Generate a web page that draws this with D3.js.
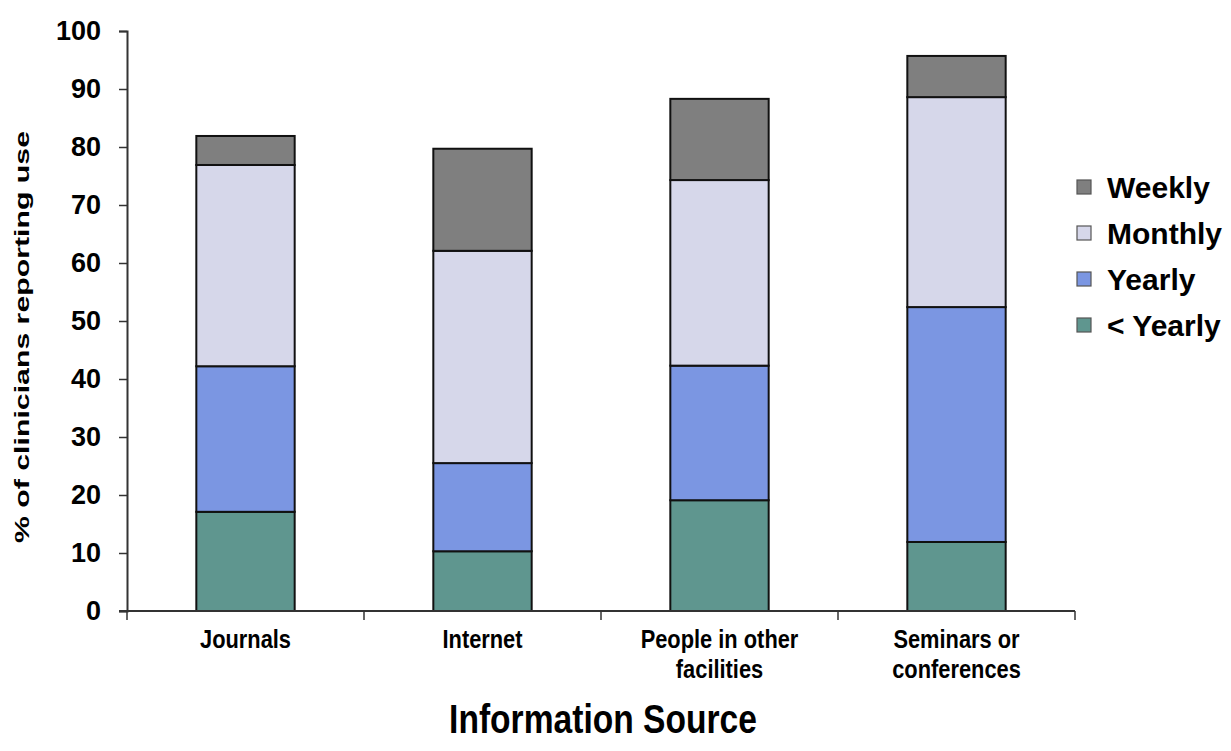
<!DOCTYPE html>
<html>
<head>
<meta charset="utf-8">
<script src="https://cdn.jsdelivr.net/npm/d3@7"></script>
<style>
  html, body { margin: 0; padding: 0; background: #fff; }
  svg { display: block; }
  text { font-family: "Liberation Sans", Arial, sans-serif; font-weight: bold; fill: #000; }
</style>
</head>
<body>
<svg id="chart" width="1231" height="751"></svg>
<script>
// Information sources and how often clinicians use them (% of clinicians)
const categories = ["Journals", "Internet", "People in other facilities", "Seminars or conferences"];
const categoryLines = [["Journals"], ["Internet"], ["People in other", "facilities"], ["Seminars or", "conferences"]];
const seriesNames = ["< Yearly", "Yearly", "Monthly", "Weekly"];
const lessThanYearly = [17.1, 10.3, 19.1, 11.9];
const yearly = [25.1, 15.2, 23.2, 40.5];
const monthly = [34.7, 36.6, 32.0, 36.2];
const weekly = [5.0, 17.6, 14.0, 7.1];
const yTicks = [0, 10, 20, 30, 40, 50, 60, 70, 80, 90, 100];
const legendOrder = ["Weekly", "Monthly", "Yearly", "< Yearly"];
const colors = { "< Yearly": "#5f968f", "Yearly": "#7b96e2", "Monthly": "#d6d7ea", "Weekly": "#7f7f7f" };

const svg = d3.select("#chart");
const margin = { left: 127, right: 156, top: 31, bottom: 140 };
const W = 1231, H = 751;

const x = d3.scaleBand().domain(categories).range([margin.left, W - margin.right]).paddingInner(0.585).paddingOuter(0.2925);
const y = d3.scaleLinear().domain([0, 100]).range([H - margin.bottom, margin.top]);

const rows = categories.map((c, i) => ({
  cat: c,
  "< Yearly": lessThanYearly[i],
  "Yearly": yearly[i],
  "Monthly": monthly[i],
  "Weekly": weekly[i]
}));
const stacked = d3.stack().keys(seriesNames)(rows);

// stacked bars
svg.append("g").selectAll("g").data(stacked).join("g")
  .attr("fill", d => colors[d.key])
  .selectAll("rect").data(d => d).join("rect")
  .attr("x", d => x(d.data.cat))
  .attr("width", x.bandwidth())
  .attr("y", d => y(d[1]))
  .attr("height", d => y(d[0]) - y(d[1]))
  .attr("stroke", "#111")
  .attr("stroke-width", 2);

// y axis
const yAxis = svg.append("g").attr("transform", `translate(${margin.left},0)`)
  .call(d3.axisLeft(y).tickValues(yTicks).tickSize(8).tickPadding(18));
yAxis.select(".domain").attr("stroke", "#333").attr("stroke-width", 2);
yAxis.selectAll(".tick line").attr("stroke", "#333").attr("stroke-width", 1.5);
yAxis.selectAll(".tick text").style("font-size", "27px").attr("fill", "#000");

// x axis with ticks at category boundaries
const xAxisG = svg.append("g").attr("transform", `translate(0,${y(0)})`);
xAxisG.append("line")
  .attr("x1", margin.left - 8).attr("x2", W - margin.right)
  .attr("stroke", "#333").attr("stroke-width", 2);
const step = x.step();
const bounds = d3.range(categories.length + 1).map(i => margin.left + i * step);
xAxisG.selectAll("line.tk").data(bounds).join("line").attr("class", "tk")
  .attr("x1", d => d).attr("x2", d => d).attr("y1", 0).attr("y2", 9)
  .attr("stroke", "#333").attr("stroke-width", 1.5);

// category labels (condensed)
const catG = svg.append("g");
categoryLines.forEach((lines, i) => {
  const cx = x(categories[i]) + x.bandwidth() / 2;
  lines.forEach((ln, j) => {
    catG.append("text")
      .attr("transform", `translate(${cx},${y(0) + 37 + j * 30}) scale(0.84,1)`)
      .attr("text-anchor", "middle")
      .style("font-size", "26px")
      .text(ln);
  });
});

// axis titles
svg.append("text")
  .attr("transform", `translate(29,337) rotate(-90)`)
  .attr("text-anchor", "middle")
  .attr("textLength", 412)
  .attr("lengthAdjust", "spacingAndGlyphs")
  .style("font-size", "20px")
  .text("% of clinicians reporting use");

svg.append("text")
  .attr("transform", "translate(603,733) scale(0.84,1)")
  .attr("text-anchor", "middle")
  .style("font-size", "40px")
  .text("Information Source");

// legend
const lg = svg.append("g").attr("transform", "translate(1077,187)");
const item = lg.selectAll("g").data(legendOrder).join("g")
  .attr("transform", (d, i) => `translate(0,${i * 46})`);
item.append("rect")
  .attr("x", 0).attr("y", -7).attr("width", 14).attr("height", 14)
  .attr("fill", d => colors[d]).attr("stroke", "#555").attr("stroke-width", 1.2);
item.append("text")
  .attr("x", 30).attr("y", 11)
  .style("font-size", "30px")
  .text(d => d);
</script>
</body>
</html>
